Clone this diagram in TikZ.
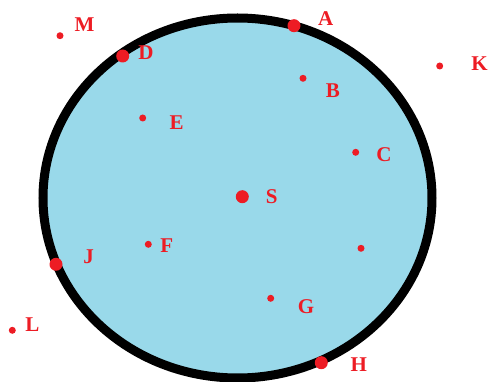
\documentclass[tikz,border=0pt]{standalone}
\usepackage{fontspec}
\setmainfont{Liberation Serif}
\usetikzlibrary{positioning}
\definecolor{paintred}{RGB}{237,28,36}
\definecolor{paintblue}{RGB}{153,217,234}

\begin{document}
\begin{tikzpicture}[x=1pt,y=-1pt,
dot/.style={circle,fill=paintred,inner sep=0pt,minimum size=7pt},
bigdot/.style={dot,minimum size=13pt},
lbl/.style={text=paintred,inner sep=0pt,font=\fontsize{21}{21}\selectfont\bfseries}]
\useasboundingbox (0,0) rectangle (488,382);

\draw[line width=9pt,fill=paintblue]
(237.5,198) ellipse [x radius=194.5pt, y radius=180pt];

\node[dot] (pM) at (60,35.7) {};
\node[bigdot] (pD) at (122.7,56) {};
\node[dot] (pE) at (142.7,118) {};
\node[bigdot] (pA) at (294,25.7) {};
\node[dot] (pK) at (439.7,66) {};
\node[dot] (pB) at (303,78.3) {};
\node[dot] (pC) at (355.7,152.3) {};
\node[bigdot] (pS) at (242.3,196.7) {};
\node[dot] (pF) at (148.3,244.3) {};
\node[bigdot] (pJ) at (56,264.3) {};
\node[dot] (pL) at (12.3,330.3) {};
\node[dot] (pX) at (361,248.3) {};
\node[dot] (pG) at (270.7,298.3) {};
\node[bigdot] (pH) at (321.3,362.7) {};

\node[lbl] (tM) at (84.5,24.5) {M};
\node[lbl] (tD) at (146,53) {D};
\node[lbl] (tE) at (176.7,122.8) {E};
\node[lbl] (tA) at (325.7,18.3) {A};
\node[lbl] (tK) at (479.5,63.7) {K};
\node[lbl] (tB) at (333,90.8) {B};
\node[lbl] (tC) at (384,154.7) {C};
\node[lbl] (tS) at (271.7,196.7) {S};
\node[lbl] (tF) at (166.7,246) {F};
\node[lbl] (tJ) at (88.5,256.3) {J};
\node[lbl] (tL) at (32.5,324.8) {L};
\node[lbl] (tG) at (306,307) {G};
\node[lbl] (tH) at (358.7,364.7) {H};
\end{tikzpicture}
\end{document}
